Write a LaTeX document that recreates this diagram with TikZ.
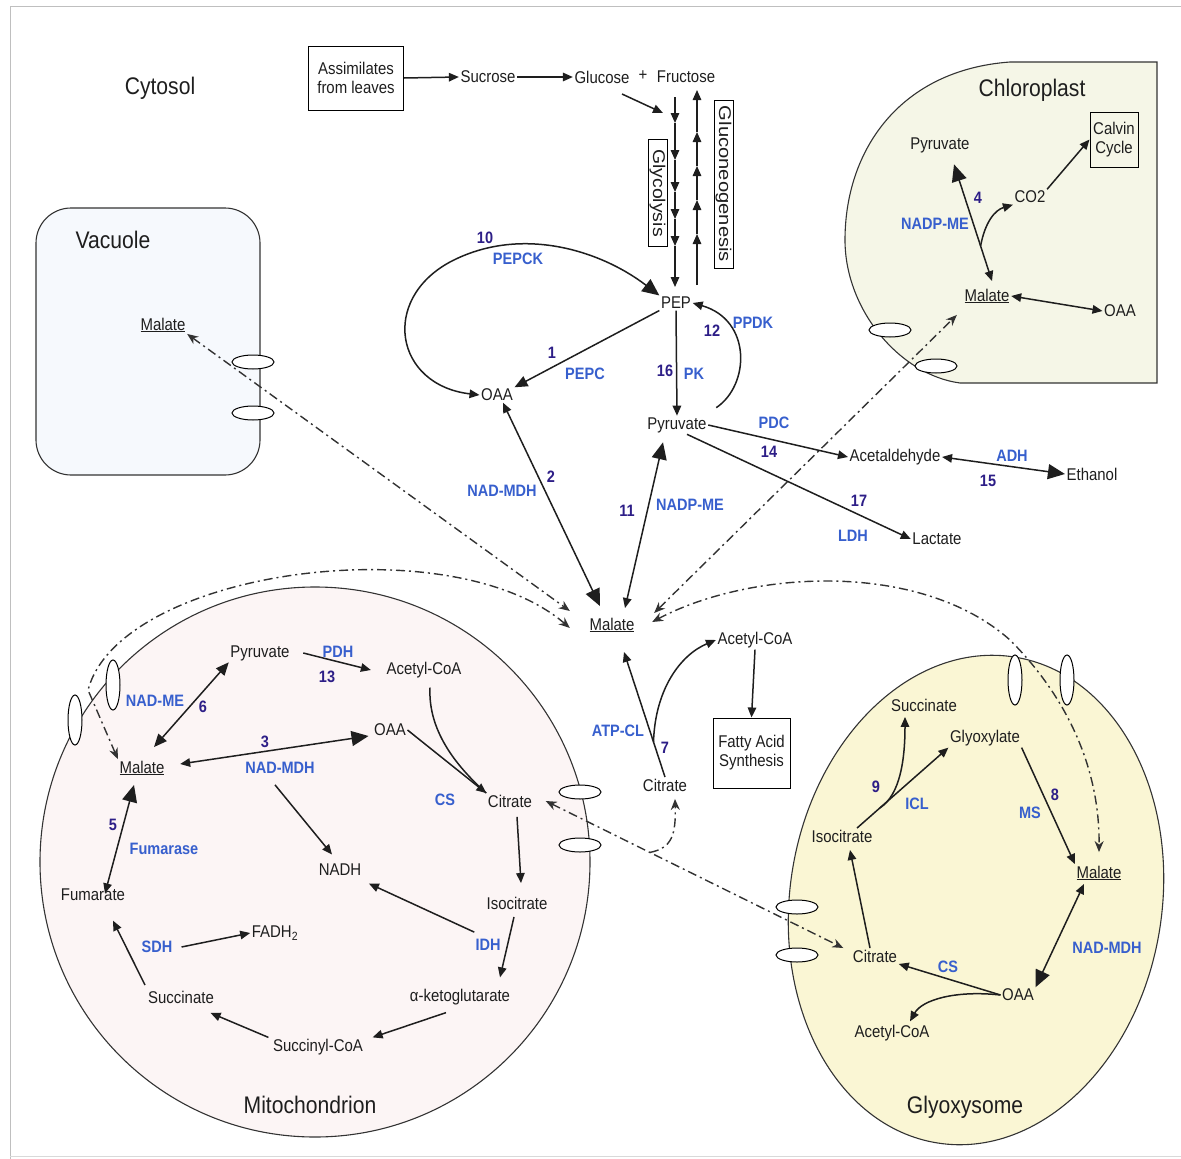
\documentclass[tikz,border=0pt]{standalone}
\usepackage{fontspec}
\setmainfont{Liberation Sans}[FakeStretch=0.88]
\usepackage{graphicx}
\usetikzlibrary{arrows.meta,calc,shapes.geometric}
\definecolor{ink}{RGB}{30,30,30}
\definecolor{enzc}{RGB}{55,95,205}
\definecolor{numc}{RGB}{45,30,135}
\definecolor{ddc}{RGB}{50,50,50}
\definecolor{mitofill}{RGB}{252,245,245}
\definecolor{glyfill}{RGB}{250,246,212}
\definecolor{chlfill}{RGB}{245,246,231}
\definecolor{vacfill}{RGB}{246,249,253}
\newcommand{\fmet}{\fontsize{17}{19}\selectfont}
\newcommand{\fenz}{\fontsize{16.5}{18}\selectfont\bfseries}
\newcommand{\fcomp}{\fontsize{24}{26}\selectfont}
\tikzset{
  met/.style={inner sep=1.5pt, font=\fmet, text=ink},
  enz/.style={inner sep=1pt, font=\fenz, text=enzc},
  num/.style={inner sep=1pt, font=\fenz, text=numc},
  comp/.style={inner sep=1pt, font=\fcomp, text=ink},
  box/.style={draw=black, line width=1pt, font=\fmet, align=left, inner sep=2pt, text=ink},
  oval/.style={ellipse, draw=black, fill=white, line width=1pt, minimum width=42pt, minimum height=14pt, inner sep=0pt},
  vov/.style={ellipse, draw=black, fill=white, line width=1pt, minimum width=14pt, minimum height=50pt, inner sep=0pt},
  ln/.style={line width=1.5pt, draw=ink},
  dd/.style={line width=1.4pt, draw=ddc, dash pattern=on 9pt off 4pt on 2pt off 4pt},
  memb/.style={line width=1.1pt, draw=black!80},
  tipS/.tip={Triangle[length=10pt,width=8.5pt]},
  tipM/.tip={Triangle[length=13pt,width=11pt]},
  tipB/.tip={Triangle[length=17pt,width=15pt]},
  ddtip/.tip={Stealth[length=11pt,width=9pt]}
}
\begin{document}
\begin{tikzpicture}[x=1pt,y=-1pt]
\useasboundingbox (0,0) rectangle (1181,1159);
% frame
\draw[black!25, line width=1pt] (10,1159) -- (10,6) -- (1181,6);
\draw[black!15, line width=1pt] (10,1156) -- (1181,1156);

% compartments
\draw[memb, fill=vacfill, rounded corners=35pt] (36,208) rectangle (260,475);
\draw[memb, fill=chlfill] (1157,62) -- (1010,62) .. controls (900,70) and (845,150) .. (845,240)
   .. controls (845,310) and (900,375) .. (960,383) -- (1157,383) -- cycle;
\draw[memb, fill=mitofill] (315,862) circle[radius=275pt];
\draw[memb, fill=glyfill, rotate around={-9:(976,900)}] (976,900) ellipse[x radius=186pt, y radius=246pt];

% transporters
\node[oval] (ov1) at (253,362) {};
\node[oval] (ov2) at (253,413) {};
\node[oval] (ov3) at (890,330) {};
\node[oval] (ov4) at (936,366) {};
\node[vov] (ov5) at (113,685) {};
\node[vov] (ov6) at (75,720) {};
\node[oval] (ov7) at (580,792) {};
\node[oval] (ov8) at (580,845) {};
\node[oval] (ov9) at (797,907) {};
\node[oval] (ov10) at (797,955) {};
\node[vov] (ov11) at (1015,680) {};
\node[vov] (ov12) at (1067,680) {};

% compartment labels
\node[comp] (tcyt) at (160,88) {Cytosol};
\node[comp] (tvac) at (113,240) {Vacuole};
\node[comp] (tchl) at (1032,90) {Chloroplast};
\node[comp] (tmit) at (310,1105) {Mitochondrion};
\node[comp] (tgly) at (965,1107) {Glyoxysome};

% cytosol metabolites
\node[box, minimum width=95pt, minimum height=64pt, align=center] (assim) at (356,78) {Assimilates\\from leaves};
\node[met] (sucr) at (488,77) {Sucrose};
\node[met] (gluc) at (602,77) {Glucose};
\node[met] (plus) at (643,76) {+};
\node[met] (fruc) at (686,77) {Fructose};
\node[box, rotate=-90, minimum width=107pt, minimum height=19pt, inner sep=0pt] (glyc) at (657.5,193) {\scalebox{1.3}[1]{Glycolysis}};
\node[box, rotate=-90, minimum width=168pt, minimum height=19pt, inner sep=0pt] (gneo) at (723.5,184) {\scalebox{1.35}[1]{Gluconeogenesis}};
\node[met] (pep) at (676,303) {PEP};
\node[met] (oaa) at (497,395) {OAA};
\node[met] (pyr) at (677,425) {Pyruvate};
\node[met] (acet) at (895,457) {Acetaldehyde};
\node[met] (eth) at (1092,474) {Ethanol};
\node[met] (lac) at (937,539) {Lactate};
\node[met] (malc) at (612,625) {\underline{Malate}};
\node[met] (cit) at (665,785) {Citrate};
\node[met] (acoa) at (755,640) {Acetyl-CoA};
\node[box, minimum width=77pt, minimum height=70pt, align=center] (fas) at (751.5,753) {Fatty Acid\\Synthesis};

% vacuole
\node[met] (vmal) at (163,325) {\underline{Malate}};

% chloroplast
\node[box, minimum width=48pt, minimum height=55pt, align=center] (calvin) at (1114,139.5) {Calvin\\Cycle};
\node[met] (cpyr) at (940,145) {Pyruvate};
\node[met] (cco2) at (1030,197) {CO2};
\node[met] (cmal) at (987,296) {\underline{Malate}};
\node[met] (coaa) at (1120,311) {OAA};

% mitochondrion
\node[met] (mpyr) at (260,653) {Pyruvate};
\node[met] (macoa) at (424,670) {Acetyl-CoA};
\node[met] (moaa) at (390,730) {OAA};
\node[met] (mmal) at (142,768) {\underline{Malate}};
\node[met] (nadh) at (340,870) {NADH};
\node[met] (mcit) at (510,801) {Citrate};
\node[met] (miso) at (517,903) {Isocitrate};
\node[met] (makg) at (460,997) {α-ketoglutarate};
\node[met] (msuccoa) at (318,1047) {Succinyl-CoA};
\node[met] (msucc) at (181,997) {Succinate};
\node[met] (mfum) at (93,895) {Fumarate};
\node[met] (mfadh) at (275,933) {FADH\textsubscript{2}};

% glyoxysome
\node[met] (gsucc) at (924,705) {Succinate};
\node[met] (gglx) at (985,738) {Glyoxylate};
\node[met] (giso) at (842,836) {Isocitrate};
\node[met] (gmal) at (1099,873) {\underline{Malate}};
\node[met] (gcit) at (875,956) {Citrate};
\node[met] (goaa) at (1018,995) {OAA};
\node[met] (gacoa) at (892,1033) {Acetyl-CoA};

% enzyme and number labels
\node[num] (n10) at (485,238) {10};
\node[enz] (ePEPCK) at (518,259) {PEPCK};
\node[num] (n1) at (552,353) {1};
\node[enz] (ePEPC) at (585,374) {PEPC};
\node[num] (n16) at (665,371) {16};
\node[enz] (ePK) at (694,374) {PK};
\node[num] (n12) at (712,331) {12};
\node[enz] (ePPDK) at (753,323) {PPDK};
\node[enz] (ePDC) at (774,423) {PDC};
\node[num] (n14) at (769,452) {14};
\node[enz] (eADH) at (1012,456) {ADH};
\node[num] (n15) at (988,481) {15};
\node[num] (n17) at (859,501) {17};
\node[enz] (eLDH) at (853,536) {LDH};
\node[enz] (eNADMDH) at (502,491) {NAD-MDH};
\node[num] (n2) at (551,477) {2};
\node[num] (n11) at (627,511) {11};
\node[enz] (eNADPME) at (690,505) {NADP-ME};
\node[enz] (eATPCL) at (618,731) {ATP-CL};
\node[num] (n7) at (665,748) {7};
\node[num] (n4) at (978,198) {4};
\node[enz] (eNADPMEc) at (935,224) {NADP-ME};
\node[enz] (ePDH) at (338,652) {PDH};
\node[num] (n13) at (327,677) {13};
\node[enz] (eNADME) at (155,701) {NAD-ME};
\node[num] (n6) at (203,707) {6};
\node[num] (n3) at (265,742) {3};
\node[enz] (menadmdh) at (280,768) {NAD-MDH};
\node[enz] (meCS) at (445,800) {CS};
\node[enz] (meidh) at (488,945) {IDH};
\node[enz] (mesdh) at (157,947) {SDH};
\node[num] (n5) at (113,825) {5};
\node[enz] (eFum) at (164,849) {Fumarase};
\node[num] (n9) at (876,787) {9};
\node[enz] (eICL) at (917,804) {ICL};
\node[enz] (eMS) at (1030,813) {MS};
\node[num] (n8) at (1055,795) {8};
\node[enz] (eCSg) at (948,967) {CS};
\node[enz] (eNADMDHg) at (1107,948) {NAD-MDH};

% ---- top connectors
\draw[ln,-{tipS}] (assim.east) -- (sucr.west);
\draw[ln,-{tipS}] (sucr.east) -- (gluc.west);
\coordinate (ga) at (622,94);
\coordinate (gb) at (663,113);
\draw[ln,-{tipS}] (ga) -- (gb);
\foreach \a/\b in {97/123,123/160,160/192,192/219,219/246,246/287}
  \draw[ln,-{tipS}] (675,\a) -- (675,\b);
\foreach \a/\b in {285/234,234/200,200/166,166/132,132/90}
  \draw[ln,-{tipS}] (697,\a) -- (697,\b);

% ---- cytosol connectors
\draw[ln,{tipS}-{tipB}] (oaa.west) .. controls (395,385) and (380,300) .. (450,262)
   .. controls (520,225) and (600,250) .. (pep.north west);
\draw[ln,-{tipM}] (pep.south west) -- (oaa.north east);
\draw[ln,-{tipS}] (pep.south) -- (pyr.north);
\draw[ln,-{tipS}] ([xshift=8pt,yshift=8pt]pyr.north east) .. controls (750,385) and (752,320) .. (pep.east);
\draw[ln,-{tipS}] (pyr.east) -- (acet.west);
\draw[ln,{tipS}-{tipB}] (acet.east) -- (eth.west);
\draw[ln,-{tipS}] ([xshift=10pt]pyr.south) -- (lac.west);
\draw[ln,{tipS}-{tipB}] ([xshift=6pt]oaa.south) -- ([xshift=-12pt,yshift=10pt]malc.north);
\draw[ln,{tipS}-{tipB}] ([xshift=13pt,yshift=8pt]malc.north) -- ([xshift=-14pt,yshift=-8pt]pyr.south);
\draw[ln,-{tipS}] (cit.north) -- ([xshift=12pt,yshift=-18pt]malc.south);
\path (cit.north) -- coordinate[pos=0.28] (cbr) ([xshift=12pt,yshift=-18pt]malc.south);
\draw[ln,-{tipS}] (cbr) .. controls (655,690) and (680,655) .. (acoa.west);
\draw[ln,-{tipS}] (acoa.south) -- (fas.north);

% ---- chloroplast connectors
\draw[ln,{tipS}-{tipB}] ([xshift=5pt,yshift=6pt]cmal.north) -- ([xshift=14pt,yshift=-10pt]cpyr.south);
\path ([xshift=5pt,yshift=6pt]cmal.north) -- coordinate[pos=0.3] (cb2) ([xshift=14pt,yshift=-10pt]cpyr.south);
\draw[ln,-{tipS}] (cb2) .. controls (985,222) and (995,210) .. (cco2.south west);
\draw[ln,-{tipS}] (cco2.north east) -- (calvin.west);
\draw[ln,{tipS}-{tipS}] (cmal.east) -- (coaa.west);

% ---- mitochondrion connectors
\draw[ln,-{tipS}] ([xshift=12pt]mpyr.east) -- ([xshift=-14pt]macoa.west);
\draw[ln,{tipM}-{tipM}] ([xshift=12pt,yshift=12pt]mmal.north) -- (mpyr.south west);
\draw[ln,{tipS}-{tipB}] ([xshift=14pt,yshift=4pt]mmal.east) -- ([xshift=-4pt,yshift=-6pt]moaa.west);
\draw[ln,-{tipS}] ([xshift=-5pt,yshift=-10pt]menadmdh.south) -- ([xshift=-8pt,yshift=8pt]nadh.north);
\draw[ln,-{tipS}] (moaa.east) -- (mcit.north west);
\draw[ln] ([xshift=6pt,yshift=-8pt]macoa.south) .. controls (428,730) and (455,765) .. (mcit.north west);
\draw[ln,-{tipS}] ([xshift=7pt,yshift=-8pt]mcit.south) -- ([xshift=4pt,yshift=12pt]miso.north);
\draw[ln,-{tipS}] ([xshift=-3pt,yshift=-6pt]miso.south) -- ([xshift=40pt,yshift=10pt]makg.north);
\draw[ln,-{tipS}] ([yshift=6pt]meidh.north west) -- ([xshift=6pt,yshift=-6pt]nadh.south east);
\draw[ln,-{tipS}] ([xshift=-14pt,yshift=-6pt]makg.south) -- ([xshift=8pt]msuccoa.north east);
\draw[ln,-{tipS}] ([xshift=-3pt]msuccoa.north west) -- ([xshift=-5pt,yshift=-8pt]msucc.south east);
\draw[ln,-{tipS}] ([xshift=-36pt,yshift=4pt]msucc.north) -- ([xshift=20pt,yshift=-18pt]mfum.south);
\draw[ln,-{tipS}] ([xshift=8pt]mesdh.east) -- (mfadh.west);
\draw[ln,{tipS}-{tipB}] ([xshift=12pt,yshift=-6pt]mfum.north) -- ([xshift=-8pt,yshift=-8pt]mmal.south);

% ---- glyoxysome connectors
\draw[ln,-{tipS}] ([xshift=15pt]giso.north) -- (gglx.south west);
\path ([xshift=15pt]giso.north) -- coordinate[pos=0.25] (gbr) (gglx.south west);
\draw[ln,-{tipS}] (gbr) .. controls (900,795) and (905,760) .. ([xshift=-19pt,yshift=-4pt]gsucc.south);
\draw[ln,-{tipS}] (gglx.south east) -- (gmal.north west);
\draw[ln,{tipS}-{tipB}] ([xshift=-15pt,yshift=-2pt]gmal.south) -- (goaa.north east);
\draw[ln,-{tipS}] (goaa.west) -- (gcit.south east);
\draw[ln,-{tipS}] (goaa.west) .. controls (955,990) and (922,1000) .. ([xshift=18pt,yshift=2pt]gacoa.north);
\draw[ln,-{tipS}] ([xshift=-5pt]gcit.north) -- ([xshift=8pt,yshift=-6pt]giso.south);

% ---- transport (dash-dot) connectors
\coordinate (mj) at (88,690);
\coordinate (gj) at (1010,640);
\draw[dd,{ddtip}-{ddtip}] (vmal.south east) -- ([xshift=-18pt,yshift=14pt]malc.west);
\draw[dd,{ddtip}-{ddtip}] (mmal.north west) -- (mj) .. controls (120,570) and (450,525) .. ([xshift=-18pt,yshift=-3pt]malc.west);
\draw[dd,{ddtip}-{ddtip}] ([xshift=18pt,yshift=12pt]malc.east) -- ([xshift=-6pt,yshift=-10pt]cmal.south west);
\draw[dd,{ddtip}-{ddtip}] ([xshift=16pt,yshift=3pt]malc.east) .. controls (750,570) and (920,560) .. (gj)
   .. controls (1060,690) and (1100,760) .. ([yshift=12pt]gmal.north);
\draw[dd,{ddtip}-{ddtip}] ([xshift=12pt]mcit.east) -- ([xshift=-8pt,yshift=8pt]gcit.west);
\path ([xshift=12pt]mcit.east) -- coordinate[pos=0.35] (cbx) ([xshift=-8pt,yshift=8pt]gcit.west);
\draw[dd,-{ddtip}] (cbx) .. controls (672,848) and (676,835) .. ([xshift=10pt,yshift=-6pt]cit.south);
\end{tikzpicture}
\end{document}
